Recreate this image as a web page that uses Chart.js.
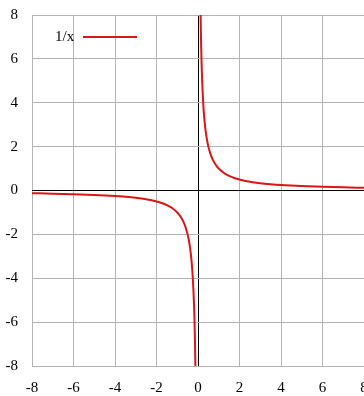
<!DOCTYPE html>
<html>
<head>
<meta charset="utf-8">
<script src="https://cdn.jsdelivr.net/npm/chart.js@4/dist/chart.umd.min.js"></script>
<style>
  html, body { margin: 0; padding: 0; background: #fff; }
  canvas { display: block; }
</style>
</head>
<body>
<canvas id="plot" width="364" height="396"></canvas>
<script>
// points, left branch then right branch
const xLeft = [-8, -7, -6, -5, -4, -3.5, -3, -2.5, -2, -1.75, -1.5, -1.25, -1, -0.9, -0.8, -0.7, -0.6, -0.5, -0.45, -0.4, -0.35, -0.3, -0.25, -0.2, -0.175, -0.15, -0.125, -0.1];
const yLeft = [-0.125, -0.143, -0.167, -0.2, -0.25, -0.286, -0.333, -0.4, -0.5, -0.571, -0.667, -0.8, -1, -1.111, -1.25, -1.429, -1.667, -2, -2.222, -2.5, -2.857, -3.333, -4, -5, -5.714, -6.667, -8, -10];
const xRight = [0.1, 0.125, 0.15, 0.175, 0.2, 0.25, 0.3, 0.35, 0.4, 0.45, 0.5, 0.6, 0.7, 0.8, 0.9, 1, 1.25, 1.5, 1.75, 2, 2.5, 3, 3.5, 4, 5, 6, 7, 8];
const yRight = [10, 8, 6.667, 5.714, 5, 4, 3.333, 2.857, 2.5, 2.222, 2, 1.667, 1.429, 1.25, 1.111, 1, 0.8, 0.667, 0.571, 0.5, 0.4, 0.333, 0.286, 0.25, 0.2, 0.167, 0.143, 0.125];
const xTicks = [-8, -6, -4, -2, 0, 2, 4, 6, 8];
const yTicks = [-8, -6, -4, -2, 0, 2, 4, 6, 8];
const seriesLabel = '1/x';

const lineColor = '#dd1515';
const gridColor = '#b4b4b4';
const fontFamily = '"Liberation Serif", "DejaVu Serif", serif';

const points = [];
xLeft.forEach((x, i) => points.push({ x: x, y: yLeft[i] }));
points.push({ x: 0, y: null });
xRight.forEach((x, i) => points.push({ x: x, y: yRight[i] }));

// gnuplot style key inside the plot: label, then a short line sample
const keyPlugin = {
  id: 'key',
  afterDatasetsDraw(chart) {
    const c = chart.ctx;
    const area = chart.chartArea;
    const ds = chart.data.datasets[0];
    const ty = area.top + 22;
    c.save();
    c.font = '15px ' + fontFamily;
    c.fillStyle = '#000';
    c.textBaseline = 'middle';
    c.textAlign = 'left';
    c.fillText(ds.label, area.left + 23, ty);
    c.strokeStyle = ds.borderColor;
    c.lineWidth = 2;
    c.beginPath();
    c.moveTo(area.left + 51, ty);
    c.lineTo(area.left + 105, ty);
    c.stroke();
    c.restore();
  }
};

function zeroColor(ctx) {
  return ctx.tick && ctx.tick.value === 0 ? '#000' : gridColor;
}

new Chart(document.getElementById('plot'), {
  type: 'scatter',
  data: {
    datasets: [{
      label: seriesLabel,
      data: points,
      showLine: true,
      spanGaps: false,
      borderColor: lineColor,
      borderWidth: 2,
      pointRadius: 0,
      cubicInterpolationMode: 'monotone'
    }]
  },
  options: {
    responsive: false,
    devicePixelRatio: 1,
    animation: false,
    layout: { padding: { top: 15, left: 0, right: 0, bottom: 0 } },
    plugins: {
      legend: { display: false },
      tooltip: { enabled: false }
    },
    scales: {
      x: {
        type: 'linear',
        min: -8,
        max: 8,
        afterBuildTicks(scale) {
          scale.ticks = xTicks.map(v => ({ value: v }));
        },
        afterFit(scale) {
          scale.height = 30;
          scale.paddingLeft = 0;
          scale.paddingRight = 0;
        },
        grid: { color: zeroColor, lineWidth: 1, drawTicks: false },
        border: { display: false },
        ticks: {
          color: '#000',
          padding: 13,
          maxRotation: 0,
          font: { family: fontFamily, size: 15 }
        }
      },
      y: {
        type: 'linear',
        min: -8,
        max: 8,
        afterBuildTicks(scale) {
          scale.ticks = yTicks.map(v => ({ value: v }));
        },
        afterFit(scale) {
          scale.width = 32;
          scale.paddingTop = 0;
          scale.paddingBottom = 0;
        },
        grid: { color: zeroColor, lineWidth: 1, drawTicks: false },
        border: { display: false },
        ticks: {
          color: '#000',
          padding: 14,
          font: { family: fontFamily, size: 15 }
        }
      }
    }
  },
  plugins: [keyPlugin]
});
</script>
</body>
</html>
